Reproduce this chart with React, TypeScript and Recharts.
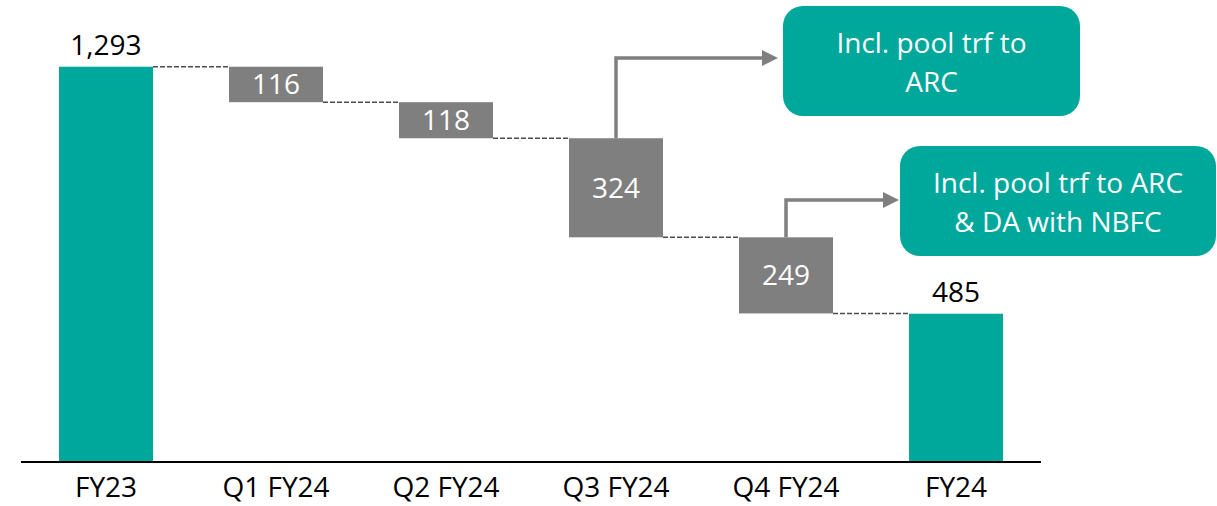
import { Bar, BarChart, Cell, LabelList, XAxis, YAxis } from 'recharts'

// Waterfall: opening balance, quarterly reductions, closing balance
const categories = ['FY23', 'Q1 FY24', 'Q2 FY24', 'Q3 FY24', 'Q4 FY24', 'FY24']
const values = [1293, 116, 118, 324, 249, 485]
const isTotal = [true, false, false, false, false, true]
const valueLabels = ['1,293', '116', '118', '324', '249', '485']
const notes: Array<string[] | null> = [
  null,
  null,
  null,
  ['Incl. pool trf to', 'ARC'],
  ['Incl. pool trf to ARC', '& DA with NBFC'],
  null,
]

const TEAL = '#00A79B'
const GREY = '#7F7F7F'
const FONT = '"Open Sans", sans-serif'

const WIDTH = 1217
const HEIGHT = 506
const MARGIN = { top: 34, right: 176, left: 21, bottom: 0 }
const BAR_SIZE = 94
const BAND = (WIDTH - MARGIN.left - MARGIN.right) / categories.length

// callout boxes, keyed by category index
const NOTE_BOXES: Record<number, { x: number; y: number; w: number; h: number; arrowY: number; tipGap: number }> = {
  3: { x: 783, y: 6, w: 297, h: 110, arrowY: 58, tipGap: 5 },
  4: { x: 900, y: 146, w: 316, h: 110, arrowY: 200, tipGap: 1 },
}

// build stacked rows: invisible base + visible delta
let level = 0
const data = categories.map((name, i) => {
  let base = 0
  if (isTotal[i]) {
    level = values[i]
  } else {
    base = level - values[i]
    level = base
  }
  return { name, base, delta: values[i], label: valueLabels[i], total: isTotal[i], note: notes[i] }
})

function DeltaShape(props: any) {
  const { x, y, width, height, index, fill } = props
  const row = data[index]
  const next = data[index + 1]
  const connectY = row.total ? y : y + height
  const box = NOTE_BOXES[index]
  const cx = x + width / 2
  return (
    <g>
      <rect x={x} y={y} width={width} height={height} fill={fill} />
      {next && (
        <line
          x1={x + width}
          x2={x + width + (BAND - width)}
          y1={connectY}
          y2={connectY}
          stroke="#4d4d4d"
          strokeWidth={1.5}
          strokeDasharray="5 2"
        />
      )}
      {row.note && box && (
        <g>
          <path
            d={`M${cx},${y} L${cx},${box.arrowY} L${box.x - box.tipGap - 15},${box.arrowY}`}
            fill="none"
            stroke={GREY}
            strokeWidth={3.5}
          />
          <polygon
            points={`${box.x - box.tipGap},${box.arrowY} ${box.x - box.tipGap - 16},${box.arrowY - 8} ${box.x - box.tipGap - 16},${box.arrowY + 8}`}
            fill={GREY}
          />
        </g>
      )}
    </g>
  )
}

function ValueLabel(props: any) {
  const { x, y, width, height, index } = props
  const row = data[index]
  if (row.total) {
    return (
      <text x={x + width / 2} y={y - 12} textAnchor="middle" fontFamily={FONT} fontSize={28} fill="#000">
        {row.label}
      </text>
    )
  }
  return (
    <text
      x={x + width / 2}
      y={y + height / 2}
      dy={10}
      textAnchor="middle"
      fontFamily={FONT}
      fontSize={28}
      fill="#fff"
    >
      {row.label}
    </text>
  )
}

function CategoryTick(props: any) {
  const { x, y, payload } = props
  return (
    <text x={x} y={y + 35} textAnchor="middle" fontFamily={FONT} fontSize={28} fill="#000">
      {payload.value}
    </text>
  )
}

function NoteBoxes() {
  return (
    <g>
      {data.map((row, i) => {
        const box = NOTE_BOXES[i]
        if (!row.note || !box) return null
        const cx = box.x + box.w / 2
        const cy = box.y + box.h / 2
        return (
          <g key={`note-${i}`}>
            <rect x={box.x} y={box.y} width={box.w} height={box.h} rx={20} ry={20} fill={TEAL} />
            {row.note.map((line, j) => (
              <text
                key={j}
                x={cx}
                y={cy + 11 + (j - (row.note!.length - 1) / 2) * 39}
                textAnchor="middle"
                fontFamily={FONT}
                fontSize={28}
                fill="#fff"
              >
                {line}
              </text>
            ))}
          </g>
        )
      })}
    </g>
  )
}

export default function App() {
  return (
    <div style={{ position: 'absolute', left: 0, top: 0, background: '#fff' }}>
      <BarChart width={WIDTH} height={HEIGHT} data={data} margin={MARGIN} barSize={BAR_SIZE}>
        <XAxis
          dataKey="name"
          height={44}
          axisLine={{ stroke: '#000', strokeWidth: 2 }}
          tickLine={false}
          tickSize={0}
          tickMargin={0}
          tick={<CategoryTick />}
          interval={0}
        />
        <YAxis hide domain={[0, 1400]} />
        <Bar dataKey="base" stackId="w" fill="transparent" isAnimationActive={false} />
        <Bar dataKey="delta" stackId="w" shape={<DeltaShape />} isAnimationActive={false}>
          {data.map((row, i) => (
            <Cell key={`cell-${i}`} fill={row.total ? TEAL : GREY} />
          ))}
          <LabelList dataKey="delta" content={<ValueLabel />} />
        </Bar>
        <NoteBoxes />
      </BarChart>
    </div>
  )
}
